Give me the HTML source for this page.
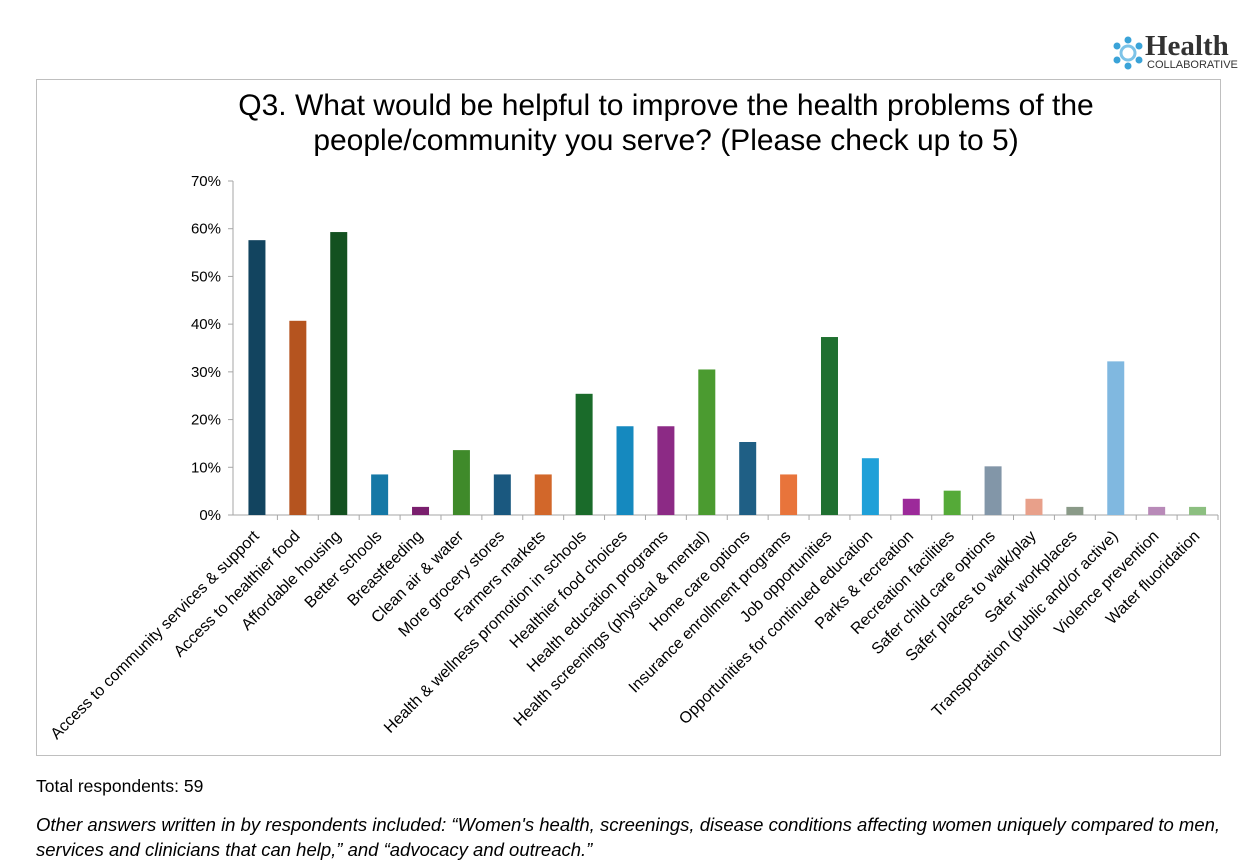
<!DOCTYPE html>
<html><head><meta charset="utf-8"><style>
body{margin:0;width:1253px;height:857px;background:#fff;font-family:"Liberation Sans",sans-serif;position:relative;overflow:hidden}
.frame{position:absolute;left:36px;top:79px;width:1185px;height:677px;border:1px solid #bfbfbf;box-sizing:border-box}
.title{position:absolute;left:116px;width:1100px;top:88px;text-align:center;font-size:30px;line-height:35px;color:#000}
.note{position:absolute;left:36px;font-size:17.5px;color:#000;white-space:nowrap}
</style></head><body>
<div class="frame"></div>
<div style="position:absolute;left:1110px;top:31px;width:125px;height:45px">
 <svg width="36" height="36" style="position:absolute;left:0;top:4px">
  <g fill="#3aa3d8"><circle cx="18" cy="5" r="3.5"/><circle cx="29" cy="11" r="3.5"/><circle cx="29" cy="25" r="3.5"/><circle cx="18" cy="31" r="3.5"/><circle cx="7" cy="25" r="3.5"/><circle cx="7" cy="11" r="3.5"/></g>
  <circle cx="18" cy="18" r="7" fill="none" stroke="#7cc3e8" stroke-width="3"/></svg>
 <div style="position:absolute;left:35px;top:0;font-family:'Liberation Serif',serif;font-weight:bold;font-size:29px;color:#333;line-height:30px">Health</div>
 <div style="position:absolute;left:37px;top:28px;font-size:11px;color:#333">COLLABORATIVE</div>
</div>
<div class="title">Q3. What would be helpful to improve the health problems of the<br>people/community you serve? (Please check up to 5)</div>
<svg id="chart" width="1253" height="760" style="position:absolute;left:0;top:0"></svg>
<div class="note" style="top:776px">Total respondents: 59</div>
<div class="note" style="top:812px;font-style:italic;line-height:25px;font-size:18.5px">Other answers written in by respondents included: “Women's health, screenings, disease conditions affecting women uniquely compared to men,<br>services and clinicians that can help,” and “advocacy and outreach.”</div>
<script>
const categories=["Access to community services & support","Access to healthier food","Affordable housing","Better schools","Breastfeeding","Clean air & water","More grocery stores","Farmers markets","Health & wellness promotion in schools","Healthier food choices","Health education programs","Health screenings (physical & mental)","Home care options","Insurance enrollment programs","Job opportunities","Opportunities for continued education","Parks & recreation","Recreation facilities","Safer child care options","Safer places to walk/play","Safer workplaces","Transportation (public and/or active)","Violence prevention","Water fluoridation"];
const values=[57.6,40.7,59.3,8.5,1.7,13.6,8.5,8.5,25.4,18.6,18.6,30.5,15.3,8.5,37.3,11.9,3.4,5.1,10.2,3.4,1.7,32.2,1.7,1.7];
const colors=["#12445f","#b5541f","#135120","#1578a6","#7a1f6e","#3f8a2a","#1a587f","#d2672a","#1a6b2a","#1589bf","#8c2a85","#4b9b30","#1f5f85","#e8743b","#1f7030","#1fa0d8","#9c2a9a","#55aa38","#8296a8","#e8a08a","#8a9a88","#80b8e0","#b88ab8","#8cbf80"];
const yTicks=[0,10,20,30,40,50,60,70];
const NS="http://www.w3.org/2000/svg",svg=document.getElementById('chart');
const xa0=233,x0=236.5,x1=1218,y0=515,yTop=181,bw=(x1-x0)/categories.length;
const y=v=>y0-(v/70)*(y0-yTop);
function mk(t,a){const e=document.createElementNS(NS,t);for(const k in a)e.setAttribute(k,a[k]);svg.appendChild(e);return e;}
let ax=mk('line',{x1:xa0,y1:yTop,x2:xa0,y2:y0,stroke:'#a6a6a6'});


yTicks.forEach(t=>{
 const tk=mk('line',{x1:xa0-5,y1:y(t),x2:xa0,y2:y(t),stroke:'#a6a6a6'});
 
 
 const l=mk('text',{x:xa0-12,y:y(t)+5,'text-anchor':'end','font-size':15,fill:'#000','font-family':'Liberation Sans'});
 l.textContent=t+'%';
 
 
});
let xa=mk('line',{x1:xa0,y1:y0,x2:x1,y2:y0,stroke:'#a6a6a6'});


categories.forEach((c,i)=>{
 const tx=x0+bw*(i+1);
 const tk=mk('line',{x1:tx,y1:y0,x2:tx,y2:y0+5,stroke:'#a6a6a6'});
 
 
 const cx=x0+bw*(i+0.5);
 const b=mk('rect',{x:cx-8.5,y:y(values[i]),width:17,height:y0-y(values[i]),fill:colors[i]});
 
 
 const lx=cx+3,ly=y0+22;
 const l=mk('text',{x:lx,y:ly,'text-anchor':'end','font-size':16,fill:'#000','font-family':'Liberation Sans',transform:`rotate(-45 ${lx} ${ly})`});
 l.textContent=c;
 
 
});
</script>
</body></html>
